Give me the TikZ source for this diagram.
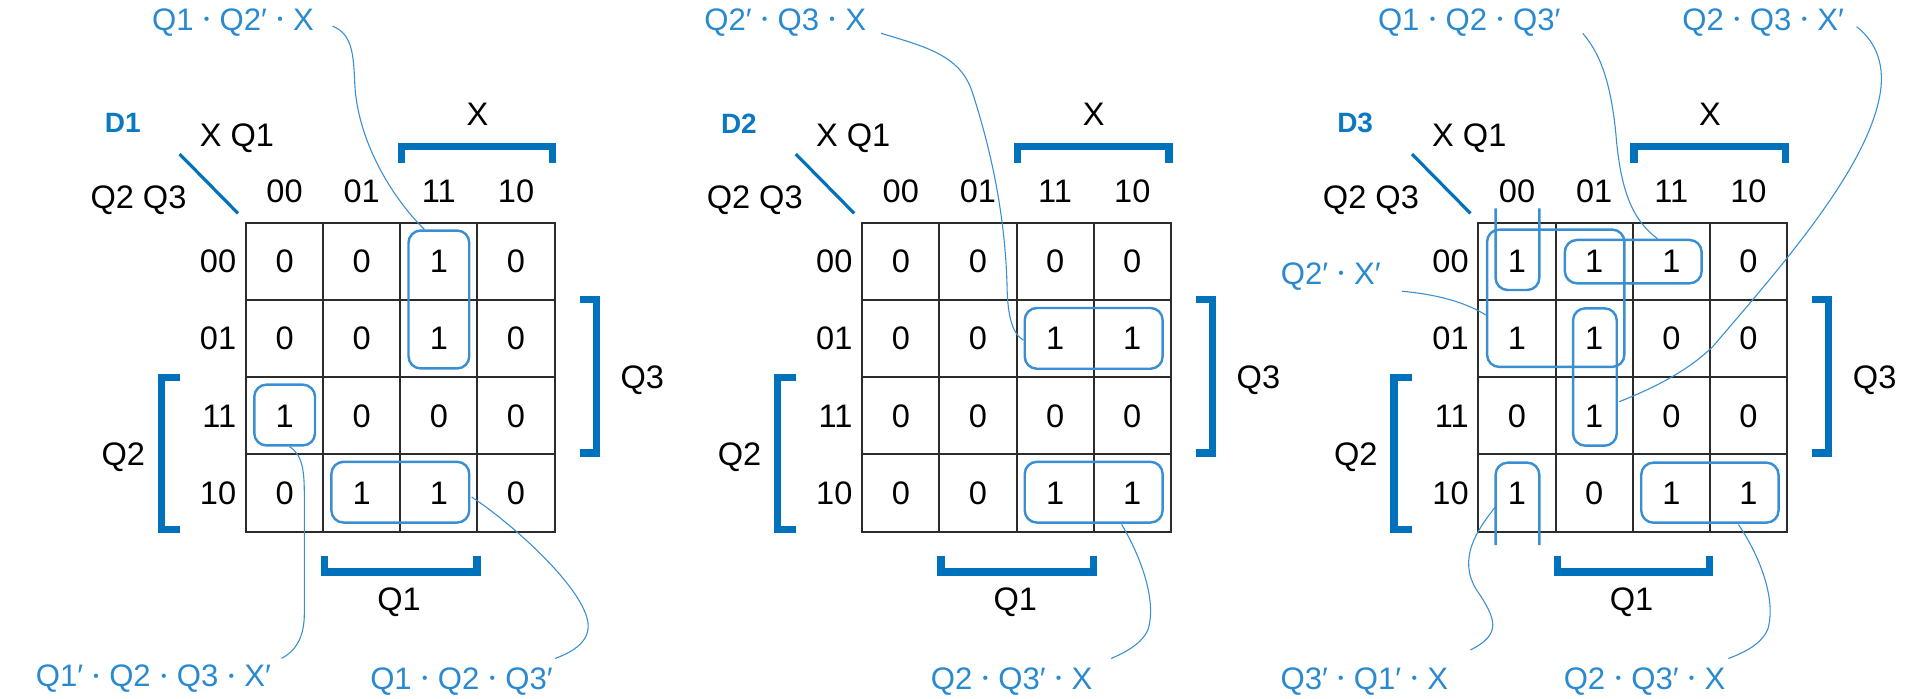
\documentclass[tikz,border=0pt]{standalone}
\usepackage{fontspec}
\setmainfont{Liberation Sans}
\usetikzlibrary{calc}
\definecolor{kblue}{HTML}{0072BC}
\definecolor{dblue}{HTML}{0B79C1}
\definecolor{tblue}{HTML}{2A8AD0}
\definecolor{lblue}{HTML}{3A8FD3}
\definecolor{gridc}{HTML}{2B2B2B}
\newcommand{\mdot}{\hspace{0.33em}\raisebox{2.3pt}{\fontsize{6.5}{6.5}\selectfont •}\hspace{0.33em}}
\tikzset{
  cell/.style={draw=gridc, line width=0.8pt, minimum width=31.75pt, minimum height=31.75pt, inner sep=0pt, font=\fontsize{13.4}{16}\selectfont, text=black},
  hdr/.style={inner sep=0pt, font=\fontsize{13.4}{16}\selectfont, text=black},
  ttl/.style={inner sep=0pt, font=\fontsize{11.5}{14}\selectfont\bfseries, text=dblue},
  expr/.style={inner sep=0pt, anchor=east, font=\fontsize{12.8}{15}\selectfont, text=tblue},
  loopbox/.style={draw=lblue, line width=1pt, rounded corners=5pt, inner sep=0pt},
  loopline/.style={draw=lblue, line width=1pt, rounded corners=5pt},
  leader/.style={draw=lblue, line width=0.45pt},
  brk/.style={draw=kblue, line width=3pt},
  diagline/.style={draw=kblue, line width=1.3pt},
}
\newcommand{\kmapdraw}[4]{%
\begin{scope}[shift={(#3,0)}]
  \node[ttl] (#1-title) at (101,101.5) {#2};
  \node[hdr] (#1-xq) at (195,114) {X Q1};
  \node[hdr] (#1-qq) at (114,164.5) {Q2 Q3};
  \draw[diagline] (147.8,126.8) -- (195.9,175.6);
  \foreach \lab [count=\k from 0] in {00,01,11,10} {
    \node[hdr] (#1-col\k) at (234.25+63.5*\k,157.7) {\lab};
    \node[hdr, anchor=east] (#1-row\k) at (194.8,215.25+63.5*\k) {\lab};
  }
  \foreach \v [count=\i from 0] in {#4} {
    \pgfmathtruncatemacro{\kr}{\i/4}
    \pgfmathtruncatemacro{\kc}{\i-4*\kr}
    \node[cell] (#1-c\kr\kc) at (234.25+63.5*\kc,215.25+63.5*\kr) {\v};
  }
  \draw[brk] (330.5,134.4) -- (330.5,120.4) -- (455,120.4) -- (455,134.4);
  \node[hdr] (#1-lx) at (393,93.8) {X};
  \draw[brk] (477,246.6) -- (490.8,246.6) -- (490.8,372.8) -- (477,372.8);
  \node[hdr] (#1-lq3) at (528.6,313.3) {Q3};
  \draw[brk] (148,310.8) -- (133,310.8) -- (133,436) -- (148,436);
  \node[hdr] (#1-lq2) at (101.5,376.5) {Q2};
  \draw[brk] (267.3,457.6) -- (267.3,470.8) -- (392.7,470.8) -- (392.7,457.6);
  \node[hdr] (#1-lq1) at (328.5,495.8) {Q1};
\end{scope}}

\begin{document}
\begin{tikzpicture}[x=0.5pt,y=-0.5pt]
\useasboundingbox (0,0) rectangle (1568,575);

\kmapdraw{m1}{D1}{0}{0,0,1,0, 0,0,1,0, 1,0,0,0, 0,1,1,0}
\kmapdraw{m2}{D2}{507.2}{0,0,0,0, 0,0,1,1, 0,0,0,0, 0,0,1,1}
\kmapdraw{m3}{D3}{1014.4}{1,1,1,0, 1,1,0,0, 0,1,0,0, 1,0,1,1}

% ---------- map 1 groups ----------
\node[loopbox, minimum width=25pt, minimum height=56.75pt] (m1-la) at (361.25,246.5) {};
\node[loopbox, minimum width=25pt, minimum height=25pt] (m1-lb) at (234.3,341.6) {};
\node[loopbox, minimum width=56.75pt, minimum height=25pt] (m1-lc) at (329.5,405.1) {};

\node[expr] (m1-e1) at (258.7,18.5) {Q1\mdot Q2′\mdot X};
\node[expr] (m1-e2) at (223.4,558.9) {Q1′\mdot Q2\mdot Q3\mdot X′};
\node[expr] (m1-e3) at (455.3,561) {Q1\mdot Q2\mdot Q3′};

\draw[leader] ([shift={(15,3)}]m1-e1.east) .. controls (290,28) and (291,45) .. (292,68.5)
  .. controls (294,115) and (322,162) .. ([shift={(-12,0)}]m1-la.north);
\draw[leader] ([shift={(4,0)}]m1-lb.south) .. controls (250,375) and (250.5,390) .. (250.5,410)
  -- (250.5,505) .. controls (250.5,525) and (243,536) .. ([shift={(8.4,-17)}]m1-e2.east);
\draw[leader] ([shift={(1,4)}]m1-lc.east) .. controls (420,430) and (474,478) .. (483,508)
  .. controls (489,528) and (470,537) .. ([shift={(1.6,-19)}]m1-e3.east);

% ---------- map 2 groups ----------
\node[loopbox, minimum width=56.75pt, minimum height=25pt] (m2-ld) at (900.2,278.5) {};
\node[loopbox, minimum width=56.75pt, minimum height=25pt] (m2-le) at (900.2,405.1) {};

\node[expr] (m2-e1) at (713.2,18.4) {Q2′\mdot Q3\mdot X};
\node[expr] (m2-e2) at (899.6,561) {Q2\mdot Q3′\mdot X};

\draw[leader] ([shift={(12,9)}]m2-e1.east) .. controls (760,38) and (790,45) .. (800,75)
  .. controls (818,130) and (828,185) .. (829,240)
  .. controls (830,265) and (835,276) .. ([shift={(0,1.5)}]m2-ld.west);
\draw[leader] ([shift={(23,0.5)}]m2-le.south) .. controls (940,460) and (952,495) .. (945,518)
  .. controls (940,530) and (926,537) .. ([shift={(15,-19)}]m2-e2.east);

% ---------- map 3 groups ----------
\node[loopbox, minimum width=56.5pt, minimum height=56.5pt] (m3-lf) at (1280.5,245.5) {};
\node[loopbox, minimum width=56.3pt, minimum height=17.85pt] (m3-lg) at (1344.3,215.35) {};
\node[loopbox, minimum width=18pt, minimum height=56.5pt] (m3-lh) at (1312.75,310.3) {};
\node[loopbox, minimum width=56.5pt, minimum height=24.7pt] (m3-li) at (1407.4,405.5) {};
\draw[loopline] (1231,171.5) -- (1231,238.7) -- (1267,238.7) -- (1267,171.5);
\draw[loopline] (1231,448.6) -- (1231,380.8) -- (1267,380.8) -- (1267,448.6);
\coordinate (m3-kl) at (1231,417);

\node[expr] (m3-e1) at (1284.8,18.5) {Q1\mdot Q2\mdot Q3′};
\node[expr] (m3-e2) at (1518.2,18.5) {Q2\mdot Q3\mdot X′};
\node[expr] (m3-e3) at (1136.9,227.7) {Q2′\mdot X′};
\node[expr] (m3-e4) at (1192.3,561) {Q3′\mdot Q1′\mdot X};
\node[expr] (m3-e5) at (1420.6,561) {Q2\mdot Q3′\mdot X};

\draw[leader] ([shift={(18,9)}]m3-e1.east) .. controls (1318,45) and (1326,70) .. (1330,110)
  .. controls (1334,160) and (1345,182) .. ([shift={(20,0)}]m3-lg.north);
\draw[leader] ([shift={(10,3.5)}]m3-e2.east) .. controls (1545,35) and (1552,55) .. (1547,80)
  .. controls (1535,140) and (1470,215) .. (1410,285)
  .. controls (1390,305) and (1360,320) .. ([shift={(1,20.3)}]m3-lh.east);
\draw[leader] ([shift={(17,12)}]m3-e3.east) .. controls (1180,242) and (1205,248) .. ([shift={(0,13.8)}]m3-lf.west);
\draw[leader] (m3-kl) .. controls (1215,437) and (1200,460) .. (1215,485)
  .. controls (1232,510) and (1236,522) .. ([shift={(18,-26)}]m3-e4.east);
\draw[leader] ([shift={(23.5,0.5)}]m3-li.south) .. controls (1450,460) and (1462,495) .. (1455,518)
  .. controls (1450,530) and (1436,537) .. ([shift={(2,-19)}]m3-e5.east);
\end{tikzpicture}
\end{document}
